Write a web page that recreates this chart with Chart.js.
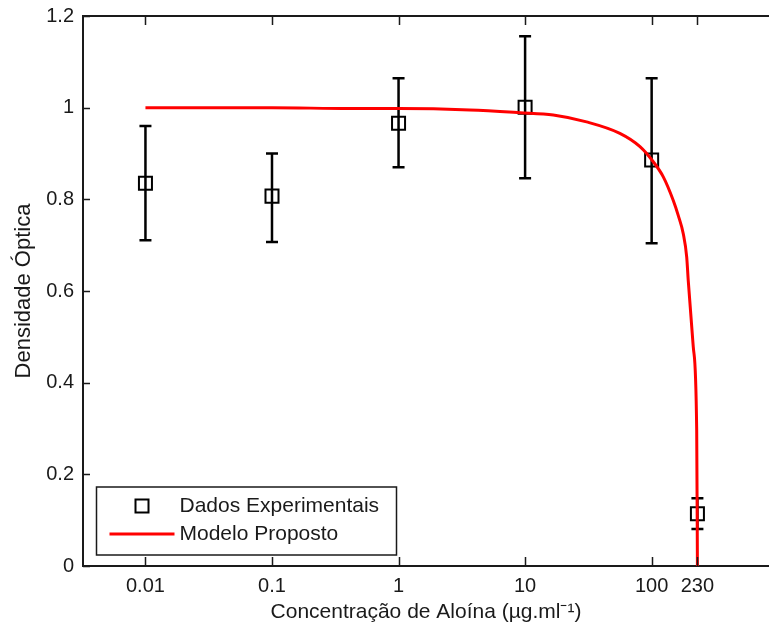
<!DOCTYPE html>
<html>
<head>
<meta charset="utf-8">
<script src="https://cdn.jsdelivr.net/npm/chart.js@4.4.1/dist/chart.umd.min.js"></script>
<style>
  body { margin: 0; background: #fff; overflow: hidden; }
  #wrap { width: 769px; height: 632px; }
</style>
</head>
<body>
<div id="wrap"><canvas id="odChart" width="769" height="632"></canvas></div>
<script>
// dados experimentais (media e barras de erro)
const concentrations = [0.01, 0.1, 1, 10, 100, 230];
const densityMean = [0.835, 0.807, 0.966, 1.001, 0.886, 0.114];
const densityUpper = [0.960, 0.900, 1.064, 1.156, 1.064, 0.148];
const densityLower = [0.711, 0.707, 0.870, 0.846, 0.704, 0.081];

// curva do modelo
const modelX = [0.01, 0.1, 0.41, 1, 3.66, 9.1, 16.7, 30.6, 56.1, 80.9, 103, 123.6, 148, 162.2, 177.8, 189.3, 194.6, 213.3, 227, 230];
const modelY = [1.0, 1.0, 0.998, 0.998, 0.995, 0.989, 0.984, 0.969, 0.944, 0.915, 0.882, 0.849, 0.798, 0.765, 0.725, 0.674, 0.623, 0.478, 0.296, 0];

const xTickValues = [0.01, 0.1, 1, 10, 100, 230];
const xTickLabels = ['0.01', '0.1', '1', '10', '100', '230'];

const FONT = "'Liberation Sans', Arial, sans-serif";
const INK = '#1a1a1a';

// barras de erro
const errorBars = {
    id: 'errorBars',
    beforeDatasetsDraw(chart) {
        const ctx = chart.ctx;
        const xs = chart.scales.x, ys = chart.scales.y;
        ctx.save();
        ctx.strokeStyle = '#000';
        ctx.lineWidth = 2.5;
        concentrations.forEach((c, i) => {
            const px = xs.getPixelForValue(c);
            const top = ys.getPixelForValue(densityUpper[i]);
            const bot = ys.getPixelForValue(densityLower[i]);
            ctx.beginPath();
            ctx.moveTo(px, top); ctx.lineTo(px, bot);
            ctx.moveTo(px - 6, top); ctx.lineTo(px + 6, top);
            ctx.moveTo(px - 6, bot); ctx.lineTo(px + 6, bot);
            ctx.stroke();
        });
        ctx.restore();
    }
};

// caixa do grafico com ticks para dentro (estilo matlab)
const boxTicks = {
    id: 'boxTicks',
    afterDraw(chart) {
        const ctx = chart.ctx;
        const a = chart.chartArea;
        const xs = chart.scales.x, ys = chart.scales.y;
        ctx.save();
        ctx.strokeStyle = INK;
        ctx.lineWidth = 2;
        ctx.beginPath();
        ctx.moveTo(a.left, a.top); ctx.lineTo(a.right, a.top);
        ctx.stroke();
        ctx.lineWidth = 1.5;
        ctx.beginPath();
        xTickValues.forEach(v => {
            const px = Math.round(xs.getPixelForValue(v)) + 0.5;
            ctx.moveTo(px, a.bottom); ctx.lineTo(px, a.bottom - 9);
            ctx.moveTo(px, a.top); ctx.lineTo(px, a.top + 9);
        });
        ys.ticks.forEach(t => {
            const py = Math.round(ys.getPixelForValue(t.value)) + 0.5;
            ctx.moveTo(a.left, py); ctx.lineTo(a.left + 7, py);
        });
        ctx.stroke();
        ctx.restore();
    }
};

// legenda dentro da area do grafico
const boxLegend = {
    id: 'boxLegend',
    afterDraw(chart) {
        const ctx = chart.ctx;
        const a = chart.chartArea;
        const left = a.left + 13.5, top = a.bottom - 79, w = 300, h = 68;
        ctx.save();
        ctx.fillStyle = '#fff';
        ctx.fillRect(left, top, w, h);
        ctx.strokeStyle = INK;
        ctx.lineWidth = 1.5;
        ctx.strokeRect(left, top, w, h);
        const ds = chart.data.datasets;
        ctx.font = '21px ' + FONT;
        ctx.fillStyle = INK;
        ctx.textBaseline = 'middle';
        // marcador
        const y1 = top + 19;
        ctx.strokeStyle = ds[0].borderColor;
        ctx.lineWidth = 2;
        ctx.strokeRect(left + 39, y1 - 6.5, 13, 13);
        ctx.fillText(ds[0].label, left + 83, y1);
        // linha
        const y2 = top + 47;
        ctx.strokeStyle = ds[1].borderColor;
        ctx.lineWidth = 3;
        ctx.beginPath();
        ctx.moveTo(left + 13, y2); ctx.lineTo(left + 78, y2);
        ctx.stroke();
        ctx.fillText(ds[1].label, left + 83, y2);
        ctx.restore();
    }
};

new Chart(document.getElementById('odChart'), {
    type: 'scatter',
    data: {
        datasets: [{
            label: 'Dados Experimentais',
            data: concentrations.map((c, i) => ({ x: c, y: densityMean[i] })),
            showLine: false,
            pointStyle: 'rect',
            pointRadius: 9.2,
            pointBorderWidth: 2,
            borderColor: '#000',
            backgroundColor: 'rgba(0,0,0,0)',
            order: 1
        }, {
            label: 'Modelo Proposto',
            data: modelX.map((x, i) => ({ x: x, y: modelY[i] })),
            showLine: true,
            pointRadius: 0,
            borderColor: '#ff0000',
            borderWidth: 3,
            cubicInterpolationMode: 'monotone',
            order: 0
        }]
    },
    options: {
        responsive: false,
        animation: false,
        layout: { autoPadding: false, padding: { top: 16, left: 0, right: 0, bottom: 0 } },
        plugins: {
            legend: { display: false },
            tooltip: { enabled: false }
        },
        scales: {
            x: {
                type: 'logarithmic',
                min: 0.00321,
                max: 846,
                afterBuildTicks: scale => { scale.ticks = xTickValues.map(v => ({ value: v })); },
                afterFit: scale => {
                    scale.height = 66;
                    scale.paddingLeft = 0;
                    scale.paddingRight = 0;
                },
                grid: { display: false, drawTicks: false },
                border: { display: true, color: INK, width: 2 },
                ticks: {
                    autoSkip: false,
                    maxRotation: 0,
                    padding: 8,
                    color: INK,
                    font: { family: FONT, size: 20 },
                    callback: (v, i) => xTickLabels[i]
                },
                title: {
                    display: true,
                    text: 'Concentração de Aloína (µg.ml⁻¹)',
                    color: INK,
                    font: { family: FONT, size: 21 },
                    padding: { top: 0, bottom: 7 }
                }
            },
            y: {
                min: 0,
                max: 1.2,
                afterFit: scale => {
                    scale.width = 83;
                    scale.paddingTop = 0;
                    scale.paddingBottom = 0;
                },
                grid: { display: false, drawTicks: false },
                border: { display: true, color: INK, width: 2 },
                ticks: {
                    stepSize: 0.2,
                    padding: 9,
                    color: INK,
                    font: { family: FONT, size: 20 },
                    callback: v => String(Math.round(v * 10) / 10)
                },
                title: {
                    display: true,
                    text: 'Densidade Óptica',
                    color: INK,
                    font: { family: FONT, size: 22 },
                    padding: { top: 11, bottom: 0 }
                }
            }
        }
    },
    plugins: [errorBars, boxTicks, boxLegend]
});
</script>
</body>
</html>
